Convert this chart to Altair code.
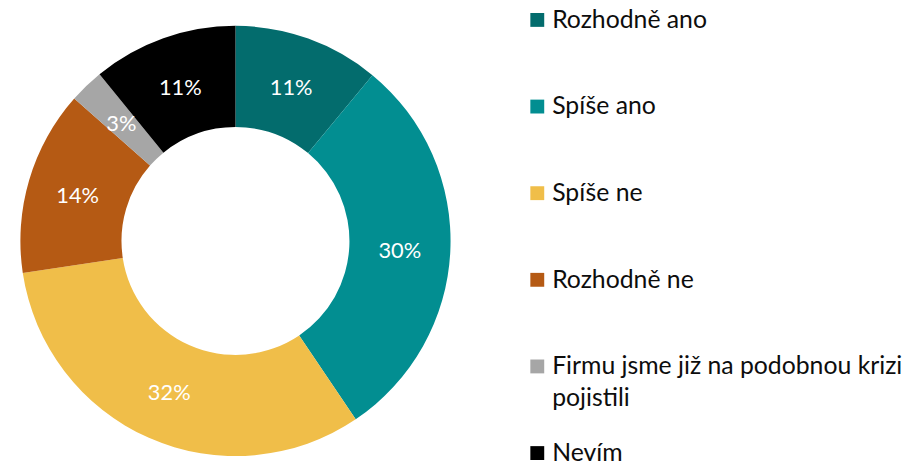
import altair as alt
import pandas as pd

categories = ["Rozhodně ano", "Spíše ano", "Spíše ne", "Rozhodně ne",
              "Firmu jsme již na podobnou krizi\npojistili", "Nevím"]
values = [11.0, 29.6, 32.1, 13.9, 2.6, 10.9]
pct_labels = ["11%", "30%", "32%", "14%", "3%", "11%"]
colors = ["#036c6d", "#028e91", "#f0be49", "#b55a14", "#a6a6a6", "#000000"]

df = pd.DataFrame({
    "cat": categories,
    "val": values,
    "lab": pct_labels,
    "idx": list(range(len(categories))),
})

W, H = 905, 456
cx, cy = 229.5, 233

color = alt.Color("cat:N", scale=alt.Scale(domain=categories, range=colors), legend=None)
order = alt.Order("idx:Q")

base = alt.Chart(df)

arcs = base.mark_arc(outerRadius=217, innerRadius=115, stroke=None).encode(
    theta=alt.Theta("val:Q", stack=True),
    color=color,
    order=order,
    x=alt.value(cx),
    y=alt.value(cy),
)

labels = base.mark_text(radius=166, font="Lato", fontSize=22, color="white",
                        align="center", baseline="middle", dy=2).encode(
    theta=alt.Theta("val:Q", stack=True),
    text="lab:N",
    order=order,
    x=alt.value(cx),
    y=alt.value(cy),
)

yscale = alt.Scale(domain=categories, range=[10, 447], type="point", padding=0)

squares = base.mark_square(size=196, opacity=1).encode(
    y=alt.Y("cat:N", scale=yscale, axis=None),
    x=alt.value(534),
    color=color,
)

legend_text = base.mark_text(align="left", baseline="alphabetic", dy=8, font="Lato",
                             fontSize=25, color="#0d0d0d", lineBreak="\n",
                             lineHeight=32).encode(
    y=alt.Y("cat:N", scale=yscale, axis=None),
    x=alt.value(549),
    text="cat:N",
)

chart = alt.layer(arcs, labels, squares, legend_text).properties(
    width=W, height=H, padding=0,
    autosize=alt.AutoSizeParams(type="none"),
).configure_view(stroke=None)

chart.save("out.html", embed_options={"renderer": "svg", "actions": False})
